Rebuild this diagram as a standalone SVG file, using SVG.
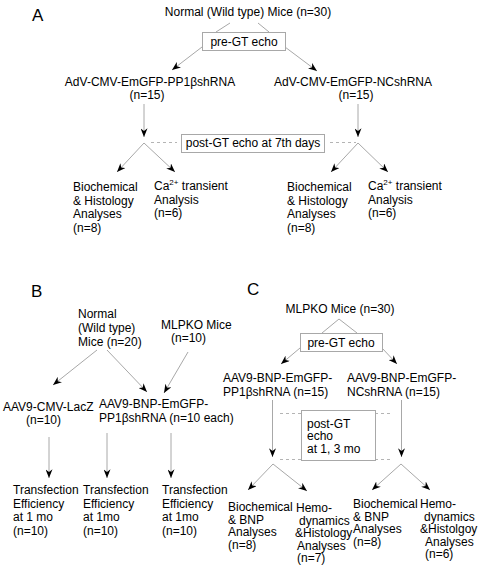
<svg xmlns="http://www.w3.org/2000/svg" width="483" height="569" viewBox="0 0 483 569">
<defs>
<marker id="ah" viewBox="0 0 10 8" refX="10" refY="4" markerWidth="9" markerHeight="7" markerUnits="userSpaceOnUse" orient="auto">
<path d="M0,0 L10,4 L0,8 L3,4 Z" fill="#000"/>
</marker>
</defs>
<style>
text{font-family:"Liberation Sans",Arial,sans-serif;font-size:12px;fill:#000}
.lbl{font-size:17px}
.mid{text-anchor:middle}
.ln{stroke:#a8a8a8;stroke-width:1;fill:none}
.ar{stroke:#a8a8a8;stroke-width:1;fill:none;marker-end:url(#ah)}
.ds{stroke:#b4b4b4;stroke-width:1;stroke-dasharray:3,3;fill:none}
.bx{fill:#fff;stroke:#a8a8a8;stroke-width:1}
.sup{font-size:8px}
</style>
<rect width="483" height="569" fill="#fff"/>

<g id="connectors">
<!-- Panel A -->
<line class="ln" x1="230" y1="23" x2="216" y2="32"/>
<line class="ln" x1="258" y1="23" x2="269" y2="32"/>
<line class="ar" x1="202" y1="47" x2="172" y2="70"/>
<line class="ar" x1="285" y1="47" x2="317" y2="71"/>
<line class="ar" x1="144" y1="104" x2="144" y2="137"/>
<line class="ar" x1="358" y1="104" x2="358" y2="137"/>
<line class="ds" x1="151" y1="142.5" x2="177" y2="142.5"/>
<line class="ds" x1="330" y1="142.5" x2="356" y2="142.5"/>
<line class="ar" x1="144" y1="143" x2="117" y2="172"/>
<line class="ar" x1="144" y1="143" x2="175" y2="172"/>
<line class="ar" x1="358" y1="143" x2="331" y2="172"/>
<line class="ar" x1="358" y1="143" x2="388" y2="172"/>
<!-- Panel B -->
<line class="ar" x1="97" y1="350" x2="53" y2="385"/>
<line class="ar" x1="107" y1="350" x2="147" y2="392"/>
<line class="ar" x1="188" y1="352" x2="164" y2="393"/>
<line class="ar" x1="49" y1="437" x2="49" y2="478"/>
<line class="ar" x1="107" y1="433" x2="107" y2="478"/>
<line class="ar" x1="171" y1="433" x2="171" y2="478"/>
<!-- Panel C -->
<line class="ln" x1="339" y1="319" x2="322" y2="333"/>
<line class="ln" x1="339" y1="319" x2="357" y2="333"/>
<line class="ar" x1="300" y1="348" x2="281" y2="364"/>
<line class="ar" x1="382" y1="348" x2="397" y2="364"/>
<line class="ar" x1="272.5" y1="400" x2="272.5" y2="457"/>
<line class="ar" x1="401.5" y1="400" x2="401.5" y2="457"/>
<line class="ds" x1="280" y1="413.5" x2="301" y2="413.5"/>
<line class="ds" x1="375" y1="413.5" x2="393" y2="413.5"/>
<line class="ds" x1="280" y1="459.5" x2="301" y2="459.5"/>
<line class="ds" x1="375" y1="459.5" x2="393" y2="459.5"/>
<line class="ar" x1="273" y1="464" x2="248" y2="490"/>
<line class="ar" x1="273" y1="464" x2="307" y2="491"/>
<line class="ar" x1="401" y1="464" x2="372" y2="490"/>
<line class="ar" x1="401" y1="464" x2="430" y2="490"/>
</g>

<!-- Panel A -->
<g id="labelA"><text class="lbl" x="32" y="21">A</text></g>
<g id="a-normal"><text class="mid" x="248" y="16">Normal (Wild type) Mice (n=30)</text></g>
<g id="a-pregt"><rect class="bx" x="202.5" y="32.5" width="83" height="18"/><text class="mid" x="244" y="46">pre-GT echo</text></g>
<g id="a-pp1"><text class="mid" x="150" y="86">AdV-CMV-EmGFP-PP1βshRNA</text><text class="mid" x="147" y="99">(n=15)</text></g>
<g id="a-nc"><text class="mid" x="353" y="86">AdV-CMV-EmGFP-NCshRNA</text><text class="mid" x="356" y="99">(n=15)</text></g>
<g id="a-postgt"><rect class="bx" x="181.5" y="134.5" width="143" height="18"/><text class="mid" x="253" y="147">post-GT echo at 7th days</text></g>
<g id="a-bio1"><text x="73" y="191">Biochemical</text><text x="73" y="204.5">&amp; Histology</text><text x="73" y="218">Analyses</text><text x="73" y="231.5">(n=8)</text></g>
<g id="a-ca1"><text x="154" y="190">Ca<tspan class="sup" dy="-5">2+</tspan><tspan dy="5"> transient</tspan></text><text x="154" y="203.5">Analysis</text><text x="154" y="217">(n=6)</text></g>
<g id="a-bio2"><text x="287" y="191">Biochemical</text><text x="287" y="204.5">&amp; Histology</text><text x="287" y="218">Analyses</text><text x="287" y="231.5">(n=8)</text></g>
<g id="a-ca2"><text x="368" y="190">Ca<tspan class="sup" dy="-5">2+</tspan><tspan dy="5"> transient</tspan></text><text x="368" y="203.5">Analysis</text><text x="368" y="217">(n=6)</text></g>

<!-- Panel B -->
<g id="labelB"><text class="lbl" x="31" y="297">B</text></g>
<g id="b-normal"><text x="78" y="318">Normal</text><text x="78" y="332">(Wild type)</text><text x="78" y="346">Mice (n=20)</text></g>
<g id="b-mlpko"><text x="161" y="329">MLPKO Mice</text><text x="171" y="342">(n=10)</text></g>
<g id="b-lacz"><text x="3" y="411">AAV9-CMV-LacZ</text><text x="26" y="424">(n=10)</text></g>
<g id="b-bnp"><text x="99" y="408">AAV9-BNP-EmGFP-</text><text x="99" y="422">PP1βshRNA (n=10 each)</text></g>
<g id="b-te1"><text x="13" y="494">Transfection</text><text x="13" y="507.5">Efficiency</text><text x="13" y="521">at 1 mo</text><text x="13" y="534.5">(n=10)</text></g>
<g id="b-te2"><text x="83" y="494">Transfection</text><text x="83" y="507.5">Efficiency</text><text x="83" y="521">at 1mo</text><text x="83" y="534.5">(n=10)</text></g>
<g id="b-te3"><text x="162" y="494">Transfection</text><text x="162" y="507.5">Efficiency</text><text x="162" y="521">at 1mo</text><text x="162" y="534.5">(n=10)</text></g>

<!-- Panel C -->
<g id="labelC"><text class="lbl" x="247" y="295">C</text></g>
<g id="c-mlpko"><text class="mid" x="340" y="313">MLPKO Mice (n=30)</text></g>
<g id="c-pregt"><rect class="bx" x="300.5" y="333.5" width="82" height="18"/><text class="mid" x="341" y="347">pre-GT echo</text></g>
<g id="c-pp1"><text x="223" y="382">AAV9-BNP-EmGFP-</text><text x="223" y="396">PP1βshRNA (n=15)</text></g>
<g id="c-nc"><text x="347" y="382">AAV9-BNP-EmGFP-</text><text x="347" y="396">NCshRNA (n=15)</text></g>
<g id="c-postgt"><rect class="bx" x="301.5" y="410.5" width="74" height="50"/><text x="307" y="427.5">post-GT</text><text x="307" y="440">echo</text><text x="307" y="452.5">at 1, 3 mo</text></g>
<g id="c-bio1"><text x="228" y="511">Biochemical</text><text x="228" y="523.5">&amp; BNP</text><text x="228" y="536">Analyses</text><text x="228" y="548.5">(n=8)</text></g>
<g id="c-hemo1"><text x="296" y="512">Hemo-</text><text x="299" y="524.5">dynamics</text><text x="295" y="537">&amp;Histology</text><text x="297" y="549.5">Analyses</text><text x="297" y="562">(n=7)</text></g>
<g id="c-bio2"><text x="353" y="508">Biochemical</text><text x="353" y="520.5">&amp; BNP</text><text x="353" y="533">Analyses</text><text x="353" y="545.5">(n=8)</text></g>
<g id="c-hemo2"><text x="420" y="508">Hemo-</text><text x="424" y="520.5">dynamics</text><text x="420" y="533">&amp;Histolgoy</text><text x="425" y="545.5">Analyses</text><text x="425" y="558">(n=6)</text></g>
</svg>
